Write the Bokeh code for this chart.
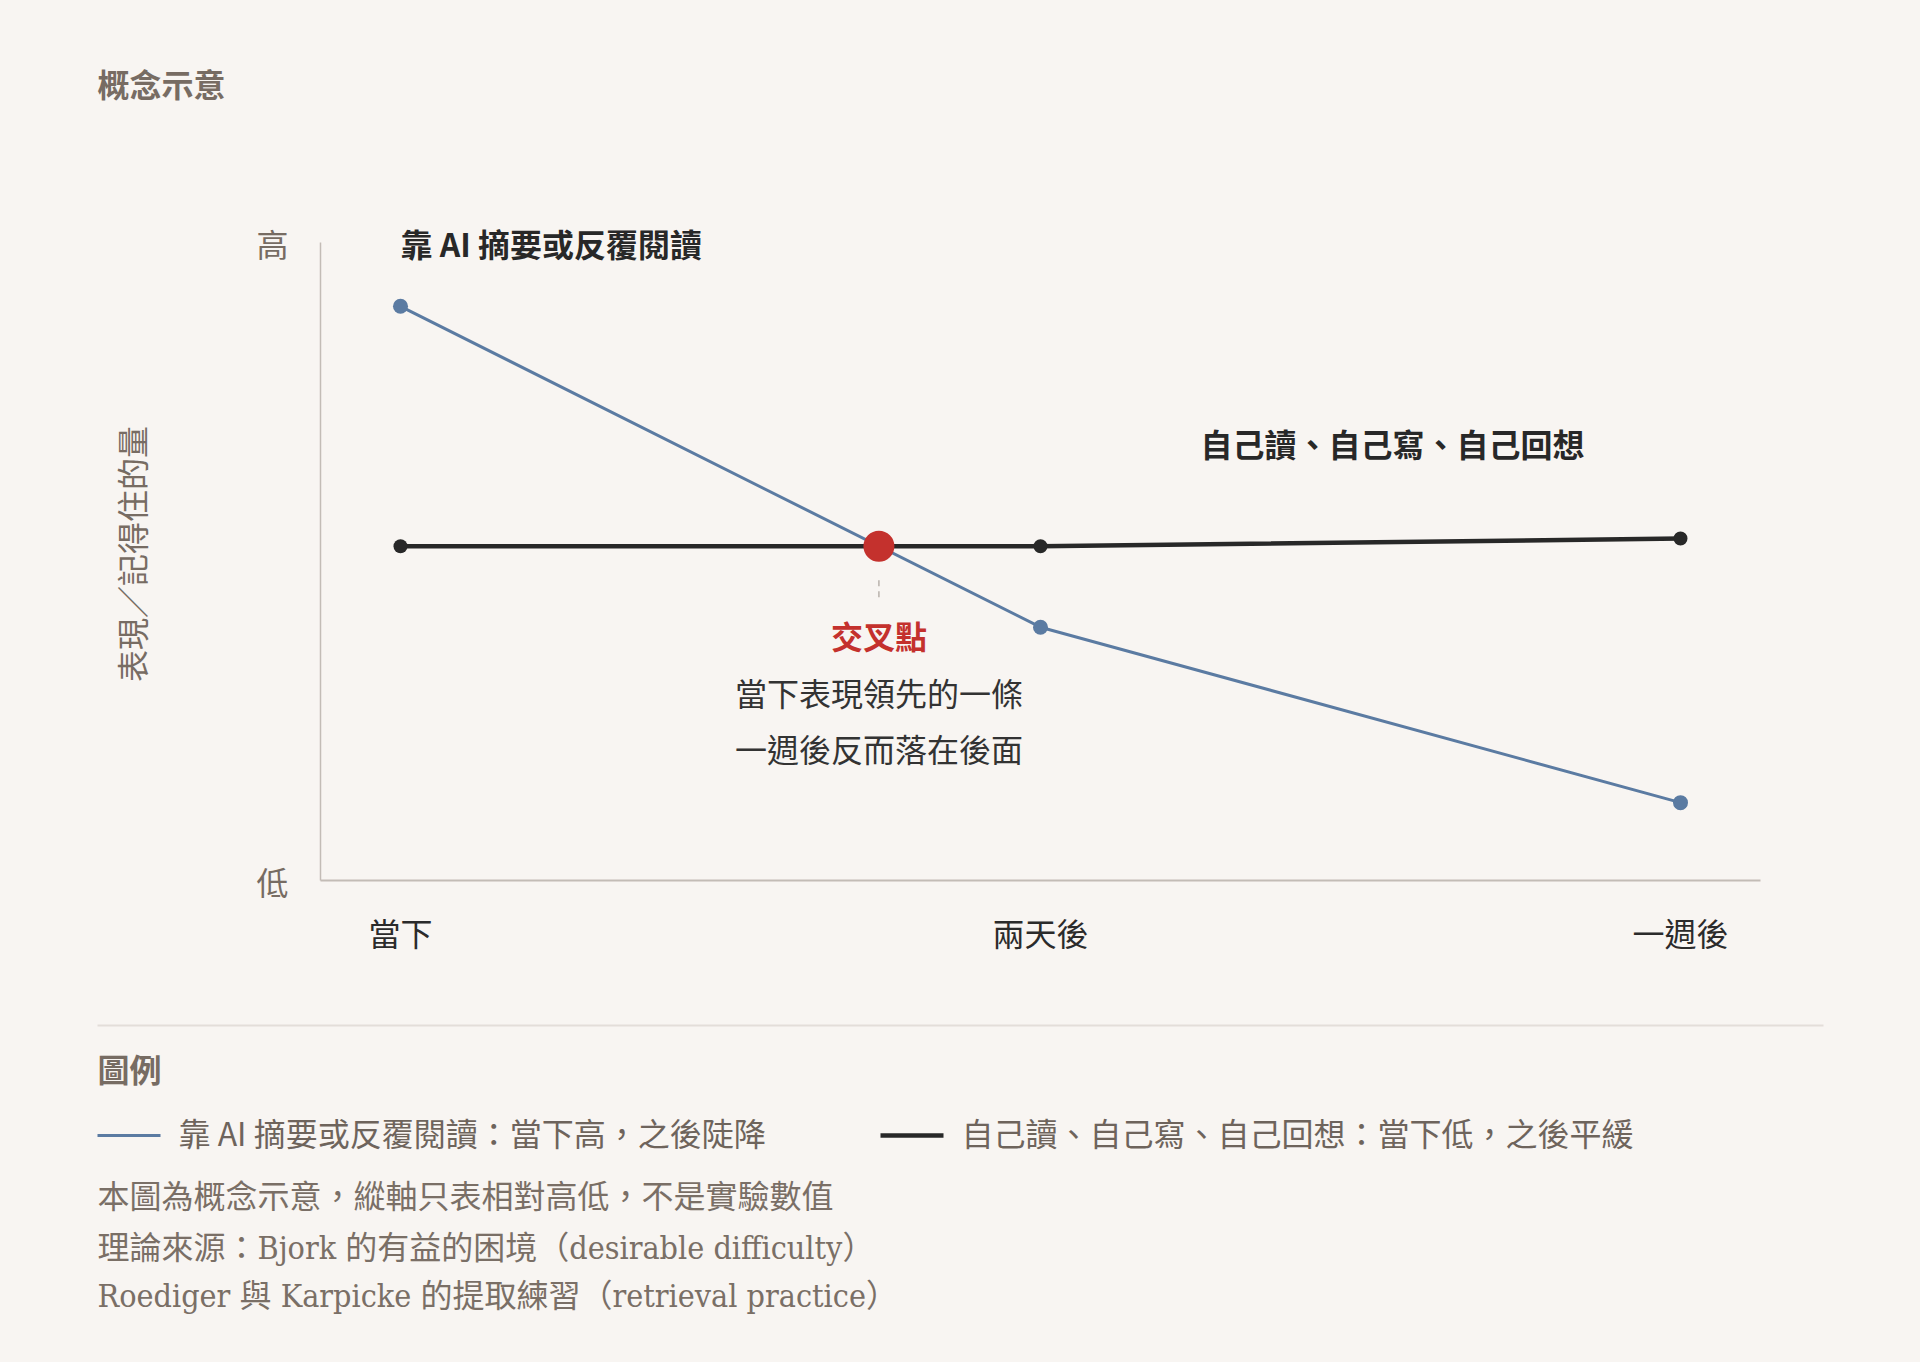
from bokeh.plotting import figure
from bokeh.models import Range1d, FixedTicker, Label
from bokeh.layouts import column
from bokeh.embed import file_html
from bokeh.resources import INLINE
from bokeh.core.properties import value

# ---------------- data ----------------
stages = ["當下", "兩天後", "一週後"]
stage_x = [0, 1, 2]
ai_values = [90.0, 39.7, 12.2]        # 靠 AI 摘要或反覆閱讀
self_values = [52.4, 52.4, 53.6]      # 自己讀、自己寫、自己回想
level_ticks = [0, 100]
level_labels = ["低", "高"]
y_title = "表現／記得住的量"
chart_title = "概念示意"
ai_name = "靠 AI 摘要或反覆閱讀"
self_name = "自己讀、自己寫、自己回想"
cross_title = "交叉點"
cross_notes = ["當下表現領先的一條", "一週後反而落在後面"]
legend_title = "圖例"
legend_labels = ["靠 AI 摘要或反覆閱讀：當下高，之後陡降",
                 "自己讀、自己寫、自己回想：當下低，之後平緩"]
footnotes = ["本圖為概念示意，縱軸只表相對高低，不是實驗數值",
             "理論來源：Bjork 的有益的困境（desirable difficulty）",
             "Roediger 與 Karpicke 的提取練習（retrieval practice）"]

# ---------------- style ----------------
BG = "#f8f5f2"
BLUE = "#5b7ba2"
INK = "#282828"
RED = "#c4312d"
AXIS = "#c3bcb6"
MUTED = "#776c63"
DARK = "#2b2b2b"
RULE = "#e3ded9"
SANS = "Noto Sans CJK TC"
SERIF = "'DejaVu Serif Condensed', 'DejaVu Serif', 'Noto Sans CJK TC'"
FS = "32px"

W = 1904
HEAD_H = 130
MAIN_H = 870
FOOT_H = 346
# axis area in page pixels (y axis line from AX_T to F_B)
F_L, F_R, F_T, F_B, AX_T = 320, 1760, 227, 880, 242
XR = (-0.125, 2.125)
Y_LO, Y_HI = 0, 100


def data_x(px):
    return XR[0] + (px - F_L) / (F_R - F_L) * (XR[1] - XR[0])


def data_y(py):
    return Y_LO + (F_B - py) / (F_B - AX_T) * (Y_HI - Y_LO)


def crossing(xs, a, b):
    for i in range(len(xs) - 1):
        d0 = a[i] - b[i]
        d1 = a[i + 1] - b[i + 1]
        if d0 * d1 < 0:
            t = d0 / (d0 - d1)
            return xs[i] + t * (xs[i + 1] - xs[i]), a[i] + t * (a[i + 1] - a[i])
    return xs[0], a[0]


def blank(height):
    fig = figure(width=W, height=height, x_range=Range1d(0, W), y_range=Range1d(height, 0),
                 output_backend="svg", toolbar_location=None, x_axis_type=None,
                 y_axis_type=None, min_border=0, background_fill_color=BG,
                 border_fill_color=BG, outline_line_color=None, frame_align=False)
    fig.grid.visible = False
    return fig


# ---------------- header ----------------
h = blank(HEAD_H)
h.text(x=[97], y=[82], text=[chart_title], text_font=value(SANS), text_font_size=FS,
       text_font_style="bold", text_color=MUTED, text_align="left", text_baseline="middle")

# ---------------- main chart ----------------
OY_MAIN = HEAD_H
p = figure(width=W, height=MAIN_H, x_range=Range1d(*XR),
           y_range=Range1d(Y_LO, data_y(F_T)),
           output_backend="svg", toolbar_location=None, frame_align=False,
           min_border_left=F_L, min_border_right=W - F_R,
           min_border_top=F_T - OY_MAIN, min_border_bottom=MAIN_H - (F_B - OY_MAIN),
           background_fill_color=BG, border_fill_color=BG, outline_line_color=None)
p.grid.visible = False

xa = p.xaxis[0]
xa.ticker = FixedTicker(ticks=stage_x)
xa.major_label_overrides = {x: s for x, s in zip(stage_x, stages)}
xa.axis_line_color = AXIS
xa.axis_line_width = 2
xa.major_tick_line_color = None
xa.minor_tick_line_color = None
xa.major_label_standoff = 22
xa.major_label_text_font = SANS
xa.major_label_text_font_size = FS
xa.major_label_text_color = DARK

ya = p.yaxis[0]
ya.ticker = FixedTicker(ticks=level_ticks)
ya.major_label_overrides = {t: s for t, s in zip(level_ticks, level_labels)}
ya.bounds = (Y_LO, Y_HI)
ya.axis_line_color = AXIS
ya.axis_line_width = 1.5
ya.major_tick_line_color = None
ya.minor_tick_line_color = None
ya.major_label_standoff = 26
ya.major_label_text_font = SANS
ya.major_label_text_font_size = FS
ya.major_label_text_color = MUTED
ya.axis_label = y_title
ya.axis_label_standoff = 99
ya.axis_label_text_font = SANS
ya.axis_label_text_font_size = FS
ya.axis_label_text_font_style = "normal"
ya.axis_label_text_color = MUTED

p.line(stage_x, self_values, line_color=INK, line_width=4.5)
p.scatter(stage_x, self_values, size=14, fill_color=INK, line_color=None)
p.line(stage_x, ai_values, line_color=BLUE, line_width=3)
p.scatter(stage_x, ai_values, size=15, fill_color=BLUE, line_color=None)

cx, cy = crossing(stage_x, ai_values, self_values)
px_per_y = (F_B - AX_T) / (Y_HI - Y_LO)
p.segment(x0=[cx], y0=[cy - 34 / px_per_y], x1=[cx], y1=[cy - 56 / px_per_y],
          line_color="#b9b2ac", line_width=1.5, line_dash="6 5")
p.scatter([cx], [cy], size=31, fill_color=RED, line_color=None)

labels = [
    dict(x=stage_x[0], y=data_y(242), text=ai_name, align="left", style="bold", color=INK),
    dict(x=data_x(1392), y=data_y(442), text=self_name, align="center", style="bold",
         color=INK),
    dict(x=cx, y=data_y(634), text=cross_title, align="center", style="bold", color=RED),
    dict(x=cx, y=data_y(691), text=cross_notes[0], align="center", style="normal",
         color="#333333"),
    dict(x=cx, y=data_y(747), text=cross_notes[1], align="center", style="normal",
         color="#333333"),
]
for lb in labels:
    p.add_layout(Label(x=lb["x"], y=lb["y"], text=lb["text"], x_units="data", y_units="data",
                       text_align=lb["align"], text_baseline="middle", text_font=SANS,
                       text_font_size=FS, text_font_style=lb["style"],
                       text_color=lb["color"]))

# ---------------- footer: legend + notes ----------------
f = blank(FOOT_H)
OY = HEAD_H + MAIN_H  # page y of footer top

f.segment(x0=[97], y0=[1025 - OY], x1=[1823], y1=[1025 - OY], line_color=RULE, line_width=2)
f.text(x=[97], y=[1067 - OY], text=[legend_title], text_font=value(SANS), text_font_size=FS,
       text_font_style="bold", text_color=MUTED, text_align="left", text_baseline="middle")

swatch_x = [97, 880]
swatch_colors = [BLUE, INK]
swatch_widths = [3, 4.5]
for sx, c, lw, lab in zip(swatch_x, swatch_colors, swatch_widths, legend_labels):
    f.segment(x0=[sx], y0=[1135 - OY], x1=[sx + 63], y1=[1135 - OY], line_color=c, line_width=lw)
    f.text(x=[sx + 81], y=[1131 - OY], text=[lab], text_font=value(SANS), text_font_size=FS,
           text_color="#6e645c", text_align="left", text_baseline="middle")

note_y = [1196, 1247, 1295]
for ny, note in zip(note_y, footnotes):
    f.text(x=[97], y=[ny - OY], text=[note], text_font=value(SERIF),
           text_font_size=FS, text_color="#7a6f66", text_align="left", text_baseline="middle")

layout = column(h, p, f, spacing=0)
html = file_html(layout, INLINE)
html = html.replace("<head>", "<head><style>html,body{background:%s;}</style>" % BG, 1)
open("out.html", "w", encoding="utf-8").write(html)
